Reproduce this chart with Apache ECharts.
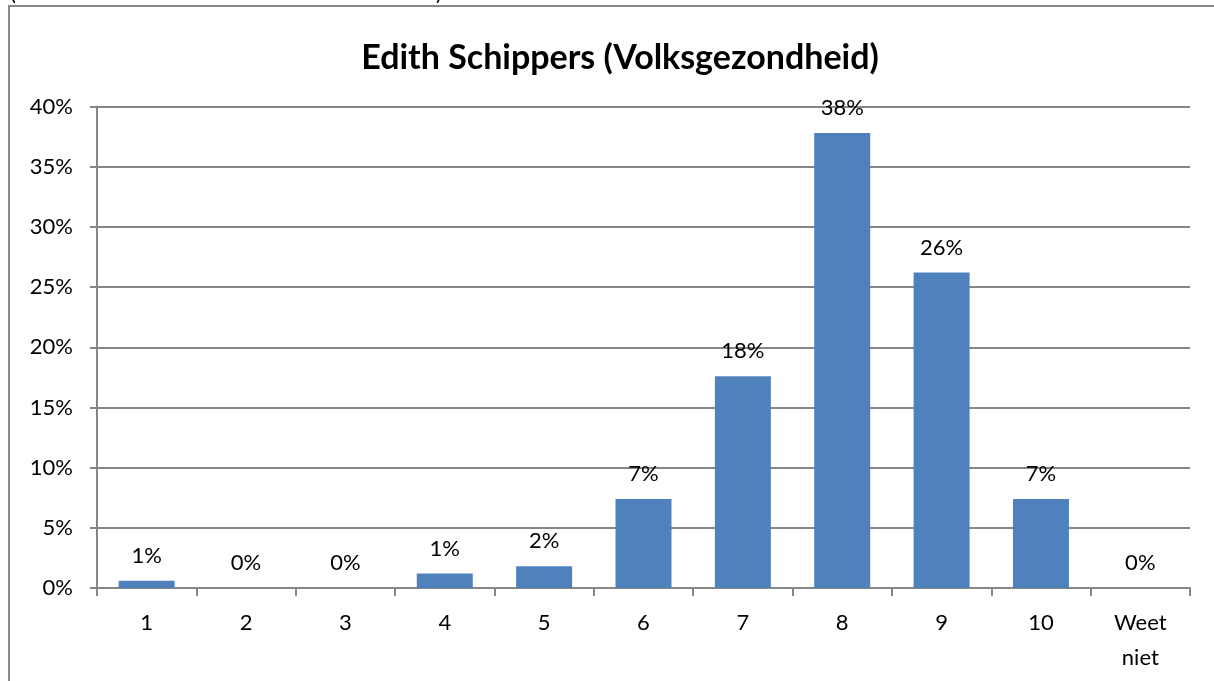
<!DOCTYPE html>
<html>
<head>
<meta charset="utf-8">
<script src="https://cdn.jsdelivr.net/npm/echarts@6/dist/echarts.min.js"></script>
<style>
  html, body { margin: 0; padding: 0; background: #fff; }
  #chart { width: 1214px; height: 681px; }
</style>
</head>
<body>
<div id="chart"></div>
<script>
const categories = ['1', '2', '3', '4', '5', '6', '7', '8', '9', '10', 'Weet\nniet'];
const values = [0.6, 0, 0, 1.2, 1.8, 7.4, 17.6, 37.8, 26.2, 7.4, 0];
const yTicks = [0, 5, 10, 15, 20, 25, 30, 35, 40];

const font = 'Lato';

const chart = echarts.init(document.getElementById('chart'));

chart.setOption({
  animation: false,
  title: {
    text: 'Edith Schippers (Volksgezondheid)',
    left: 615,
    textAlign: 'center',
    top: 36,
    textStyle: { fontFamily: font, fontWeight: 'bold', fontSize: 34, color: '#000' }
  },
  grid: { left: 97, right: 24, top: 106.5, bottom: 93 },
  xAxis: {
    type: 'category',
    data: categories,
    axisLine: { lineStyle: { color: '#868686', width: 2 } },
    axisTick: { show: true, length: 8, lineStyle: { color: '#868686', width: 2 } },
    axisLabel: { color: '#000', fontFamily: font, fontSize: 22, margin: 17, lineHeight: 35 }
  },
  yAxis: {
    type: 'value',
    min: yTicks[0],
    max: yTicks[yTicks.length - 1],
    interval: 5,
    axisLine: { show: true, lineStyle: { color: '#868686', width: 2 } },
    axisTick: { show: true, length: 7, lineStyle: { color: '#868686', width: 2 } },
    splitLine: { lineStyle: { color: '#868686', width: 2 } },
    axisLabel: { color: '#000', fontFamily: font, fontSize: 22, margin: 24, formatter: v => v + '%' }
  },
  series: [{
    type: 'bar',
    data: values,
    barWidth: 56,
    itemStyle: { color: '#4F81BD' },
    label: {
      show: true,
      position: 'top',
      distance: 14,
      color: '#000',
      fontFamily: font,
      fontSize: 22,
      formatter: p => Math.round(p.value) + '%'
    }
  }],
  graphic: [
    {
      type: 'rect',
      shape: { x: 9, y: 6, width: 1230, height: 700 },
      style: { fill: 'none', stroke: '#888', lineWidth: 2 },
      silent: true
    },
    {
      type: 'text', left: 10, top: -18,
      style: { text: '(', fontFamily: font, fontSize: 22, fill: '#000' }
    },
    {
      type: 'text', left: 436, top: -18,
      style: { text: ')', fontFamily: font, fontSize: 22, fill: '#000' }
    }
  ]
});
</script>
</body>
</html>
